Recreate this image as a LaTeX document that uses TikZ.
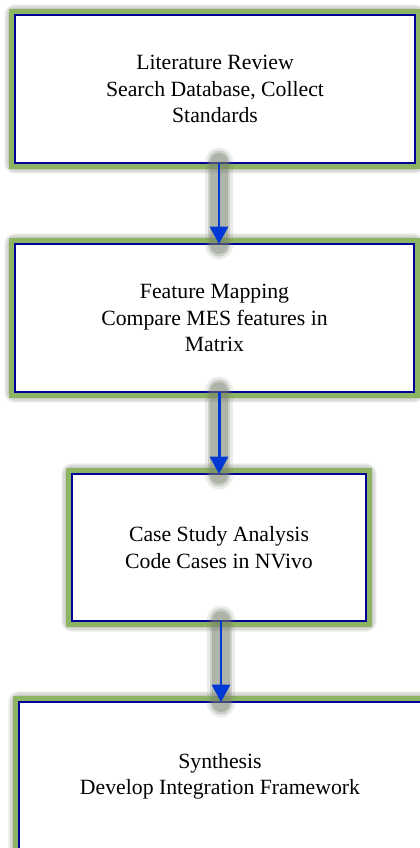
\documentclass[tikz,border=0pt]{standalone}
\usepackage{fontspec}
\setmainfont{Liberation Serif}
\usetikzlibrary{arrows.meta}

\definecolor{boxgreen}{RGB}{141,180,98}
\definecolor{boxblue}{RGB}{0,0,150}
\definecolor{flowblue}{RGB}{0,56,214}
\definecolor{glowgray}{RGB}{120,128,110}

\tikzset{every picture/.style={line width=0.75pt}}
\tikzset{
  stage/.style={rectangle, draw=boxblue, fill=white, line width=1.9pt, outer sep=0pt,
    minimum width=300pt, minimum height=111pt, inner sep=0.75pt, align=center,
    font=\fontsize{16.3}{19.8}\selectfont,
    preaction={draw=glowgray, draw opacity=0.07, line width=17pt, line join=round},
    preaction={draw=glowgray, draw opacity=0.10, line width=15pt, line join=round},
    preaction={draw=glowgray, draw opacity=0.14, line width=13pt, line join=round},
    preaction={draw=glowgray, draw opacity=0.18, line width=11pt, line join=round},
    preaction={draw=boxgreen, line width=9.5pt}},
  flow/.style={draw=flowblue, line width=2.2pt, -{Triangle[width=13.5pt,length=13pt]},
    preaction={-, draw=glowgray, draw opacity=0.15, line width=21pt, line cap=round, shorten <=-1pt, shorten >=-1pt},
    preaction={-, draw=glowgray, draw opacity=0.25, line width=17pt, line cap=round, shorten <=-1pt, shorten >=-1pt},
    preaction={-, draw=glowgray, draw opacity=0.35, line width=13pt, line cap=round, shorten <=-1pt, shorten >=-1pt}}
}

\begin{document}
\begin{tikzpicture}[x=0.75pt,y=0.75pt,yscale=-1,xscale=1]
\clip (0,0) rectangle (420,848);
\fill[white] (0,0) rectangle (420,848);

% Stages
\node[stage] (lit) at (215,89) {Literature Review\\Search Database, Collect\\Standards};
\node[stage, minimum width=299.25pt] (map) at (214.5,318) {Feature Mapping\\Compare MES features in\\Matrix};
\node[stage, minimum width=220.5pt, minimum height=110.25pt] (case) at (219,547.5) {Case Study Analysis\\Code Cases in NVivo};
\node[stage, minimum width=301.5pt] (syn) at (220,776) {Synthesis\\Develop Integration Framework};

% Flow arrows
\draw[flow] ([xshift=3pt]lit.south) -- ([xshift=3pt]lit.south |- map.north);
\draw[flow] ([xshift=3.4pt]map.south) -- ([xshift=3.4pt]map.south |- case.north);
\draw[flow] ([xshift=1.5pt]case.south) -- ([xshift=1.5pt]case.south |- syn.north);

\end{tikzpicture}
\end{document}
